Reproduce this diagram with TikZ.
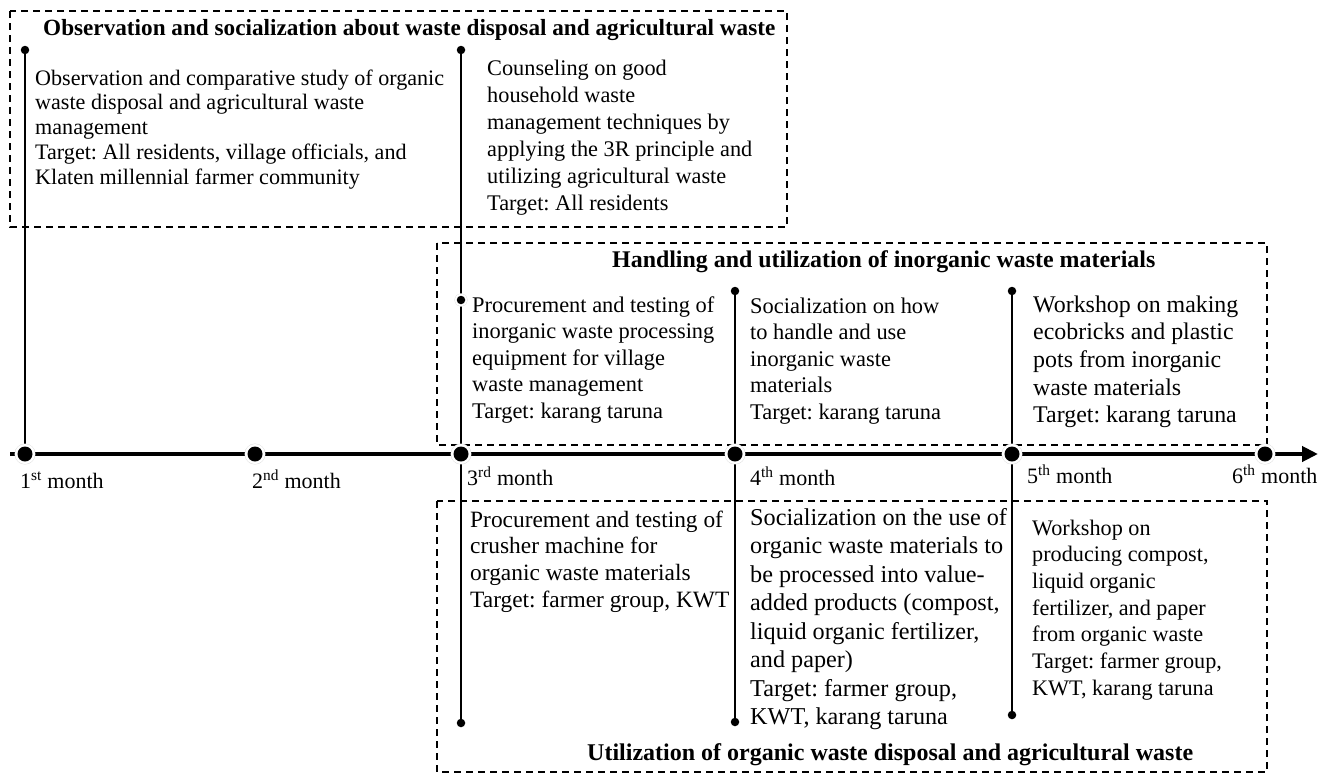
\documentclass[tikz,border=0pt]{standalone}
\usepackage{fontspec}
\setmainfont{Liberation Serif}
\usetikzlibrary{arrows.meta}
\newcommand\linestack[1]{\vtop{\halign{##\hfil\cr#1\crcr}}}
\tikzset{
  grp/.style={draw=black, line width=2pt, dash pattern=on 7pt off 5pt},
  vline/.style={draw=black, line width=2.8pt},
  axis/.style={draw=black, line width=4.5pt, -{Triangle[length=16pt,width=15pt]}},
  mdot/.style={circle, fill=black, inner sep=0pt, minimum size=15pt,
    preaction={draw=black!15, line width=5.8pt}, preaction={draw=white, line width=5pt}},
  sdot/.style={circle, fill=black, inner sep=0pt, minimum size=8.5pt},
  rdot/.style={circle, fill=black, inner sep=0pt, minimum size=8.5pt,
    preaction={draw=black!15, line width=4.6pt}, preaction={draw=white, line width=4pt}},
  txt/.style={anchor=base west, inner sep=0pt},
  ttl/.style={anchor=base west, inner sep=0pt},
  mlab/.style={anchor=base west, inner sep=0pt, font=\fontsize{22}{26}\selectfont},
}
\begin{document}
\frenchspacing
\begin{tikzpicture}[x=1pt,y=-1pt]
\useasboundingbox (0,0) rectangle (1327,774);
% group boxes
\draw[grp] (10,11) rectangle (787,227);
\draw[grp] (437,243) rectangle (1267,445);
\draw[grp] (437,501) rectangle (1267,772);
% coordinates
\coordinate (c1) at (25,454);
\coordinate (c2) at (255,454);
\coordinate (c3) at (461,454);
\coordinate (c4) at (735,454);
\coordinate (c5) at (1012,454);
\coordinate (c6) at (1265,454);
\coordinate (a0) at (10,454);
\coordinate (a1) at (1318,454);
\coordinate (t1) at (25,50);
\coordinate (t3) at (461,50);
\coordinate (b3) at (461,723);
\coordinate (s3) at (461,300);
\coordinate (t4) at (735,291);
\coordinate (b4) at (735,722);
\coordinate (t5) at (1012,291);
\coordinate (b5) at (1012,715);
% vertical lines
\draw[vline] (t1) -- (c1);
\draw[vline] (t3) -- (b3);
\draw[vline] (t4) -- (b4);
\draw[vline] (t5) -- (b5);
% time axis
\draw[axis] (a0) -- (a1);
% dots
\node[sdot] (T1) at (t1) {};
\node[sdot] (T3) at (t3) {};
\node[sdot] (B3) at (b3) {};
\node[rdot] (S3) at (s3) {};
\node[sdot] (T4) at (t4) {};
\node[sdot] (B4) at (b4) {};
\node[sdot] (T5) at (t5) {};
\node[sdot] (B5) at (b5) {};
\node[mdot] (M1) at (c1) {};
\node[mdot] (M2) at (c2) {};
\node[mdot] (M3) at (c3) {};
\node[mdot] (M4) at (c4) {};
\node[mdot] (M5) at (c5) {};
\node[mdot] (M6) at (c6) {};
% month labels
\node[mlab] (L1) at (20,488) {1\textsuperscript{st} month};
\node[mlab] (L2) at (252,488) {2\textsuperscript{nd} month};
\node[mlab] (L3) at (467,485) {3\textsuperscript{rd} month};
\node[mlab] (L4) at (750,485) {4\textsuperscript{th} month};
\node[mlab] (L5) at (1027,483) {5\textsuperscript{th} month};
\node[mlab] (L6) at (1232,483) {6\textsuperscript{th} month};
% titles
\node[ttl, font=\bfseries\fontsize{23.2}{27}\selectfont] (G1) at (43,35) {Observation and socialization about waste disposal and agricultural waste};
\node[ttl, font=\bfseries\fontsize{23.9}{27}\selectfont] (G2) at (612,267) {Handling and utilization of inorganic waste materials};
\node[ttl, font=\bfseries\fontsize{24}{27}\selectfont] (G3) at (587,760) {Utilization of organic waste disposal and agricultural waste};
% activity texts
\node[txt, font=\fontsize{22.1}{24.8}\selectfont] (A1) at (35,85) {\linestack{Observation and comparative study of organic\cr waste disposal and agricultural waste\cr management\cr Target: All residents, village officials, and\cr Klaten millennial farmer community}};
\node[txt, font=\fontsize{22.3}{27}\selectfont] (A2) at (487,75) {\linestack{Counseling on good\cr household waste\cr management techniques by\cr applying the 3R principle and\cr utilizing agricultural waste\cr Target: All residents}};
\node[txt, font=\fontsize{22.4}{26.5}\selectfont] (A3) at (472,312) {\linestack{Procurement and testing of\cr inorganic waste processing\cr equipment for village\cr waste management\cr Target: karang taruna}};
\node[txt, font=\fontsize{22.4}{26.5}\selectfont] (A4) at (750,313) {\linestack{Socialization on how\cr to handle and use\cr inorganic waste\cr materials\cr Target: karang taruna}};
\node[txt, font=\fontsize{23.9}{27.7}\selectfont] (A5) at (1033,312) {\linestack{Workshop on making\cr ecobricks and plastic\cr pots from inorganic\cr waste materials\cr Target: karang taruna}};
\node[txt, font=\fontsize{23.4}{26.7}\selectfont] (A6) at (470,527) {\linestack{Procurement and testing of\cr crusher machine for\cr organic waste materials\cr Target: farmer group, KWT}};
\node[txt, font=\fontsize{24.2}{28.5}\selectfont] (A7) at (750,525) {\linestack{Socialization on the use of\cr organic waste materials to\cr be processed into value-\cr added products (compost,\cr liquid organic fertilizer,\cr and paper)\cr Target: farmer group,\cr KWT, karang taruna}};
\node[txt, font=\fontsize{22.2}{26.7}\selectfont] (A8) at (1032,535) {\linestack{Workshop on\cr producing compost,\cr liquid organic\cr fertilizer, and paper\cr from organic waste\cr Target: farmer group,\cr KWT, karang taruna}};
\end{tikzpicture}
\end{document}
